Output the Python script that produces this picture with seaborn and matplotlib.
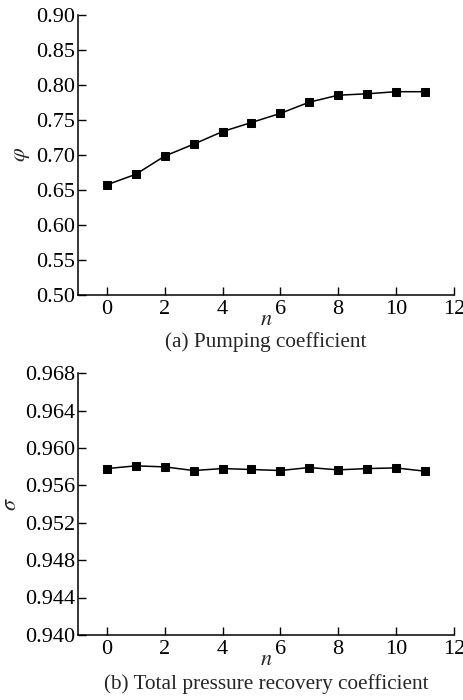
import numpy as np
import pandas as pd
import seaborn as sns
import matplotlib.pyplot as plt

n = list(range(12))
phi = [0.657, 0.672, 0.698, 0.715, 0.733, 0.746, 0.759, 0.775, 0.785, 0.787, 0.790, 0.790]
sigma = [0.95779, 0.95808, 0.95797, 0.95758, 0.95779, 0.95769, 0.95758, 0.95790,
         0.95765, 0.95779, 0.95786, 0.95751]

phi_ticks = [0.50, 0.55, 0.60, 0.65, 0.70, 0.75, 0.80, 0.85, 0.90]
sigma_ticks = [0.940, 0.944, 0.948, 0.952, 0.956, 0.960, 0.964, 0.968]
x_ticks = [0, 2, 4, 6, 8, 10, 12]

df = pd.DataFrame({"n": n, "phi": phi, "sigma": sigma})

sns.set_style("ticks")
plt.rcParams['font.family'] = ['Liberation Serif', 'DejaVu Serif']
plt.rcParams['mathtext.fontset'] = 'stix'

fig = plt.figure(figsize=(4.64, 7.0), dpi=100)
ax1 = fig.add_axes([0.168, 0.579, 0.810, 0.400])
ax2 = fig.add_axes([0.168, 0.093, 0.810, 0.374])

panels = [
    (ax1, "phi", phi_ticks, "%.2f", r"$\varphi$", "(a) Pumping coefficient", -0.135),
    (ax2, "sigma", sigma_ticks, "%.3f", r"$\sigma$", "(b) Total pressure recovery coefficient", -0.148),
]

for ax, col, yt, fmt, ylab, cap, cap_y in panels:
    sns.lineplot(data=df, x="n", y=col, ax=ax, color="black", linewidth=1.1,
                 marker="s", markersize=5.2, markeredgecolor="black")
    ax.set_xlim(-1, 12)
    ax.set_ylim(yt[0], yt[-1])
    ax.set_xticks(x_ticks)
    ax.set_yticks(yt)
    ax.set_yticklabels([fmt % v for v in yt])
    ax.tick_params(direction="in", length=6, width=1, labelsize=16, colors="black")
    ax.tick_params(axis="x", pad=4)
    ax.tick_params(axis="y", pad=2)
    sns.despine(ax=ax)
    for s in ["left", "bottom"]:
        ax.spines[s].set_linewidth(1.1)
        ax.spines[s].set_color("black")
    ax.set_xlabel(r"$n$", fontsize=16, labelpad=-6)
    ax.set_ylabel(ylab, fontsize=16, labelpad=3)
    ax.text(0.5, cap_y, cap, transform=ax.transAxes,
            ha="center", va="top", fontsize=15.3)

fig.savefig("out.png", dpi=100)
